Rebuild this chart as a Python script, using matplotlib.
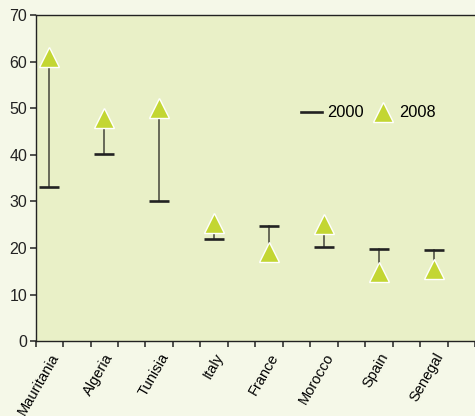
"""Dumbbell-style chart: 2000 vs 2008 values by country."""

import matplotlib
matplotlib.use("Agg")
import matplotlib.pyplot as plt
from matplotlib.lines import Line2D
import numpy as np

countries = ["Mauritania", "Algeria", "Tunisia", "Italy", "France",
             "Morocco", "Spain", "Senegal"]
values_2000 = [33.0, 40.2, 30.1, 21.9, 24.8, 20.3, 19.8, 19.6]
values_2008 = [61.0, 47.8, 50.0, 25.4, 19.2, 25.2, 14.8, 15.5]

FIG_BG = "#f5f8e8"
AX_BG = "#e9f0c7"
TRI = "#c3d633"

plt.rcParams.update({
    "font.family": ["Liberation Sans", "DejaVu Sans"],
    "font.size": 10.5,
})

fig = plt.figure(figsize=(4.75, 4.16), dpi=100, facecolor=FIG_BG)
ax = fig.add_axes([0.075, 0.18, 0.925, 0.784])
ax.set_facecolor(AX_BG)

x = np.arange(len(countries))
for xi, a, b in zip(x, values_2000, values_2008):
    ax.plot([xi, xi], [a, b], color="#44443a", linewidth=1.1, zorder=2)
ax.plot(x, values_2000, linestyle="none", marker="_", markersize=15,
        markeredgewidth=1.9, color="#222222", zorder=3)
ax.plot(x, values_2008, linestyle="none", marker="^", markersize=15,
        markerfacecolor=TRI, markeredgecolor="white", markeredgewidth=1.0,
        zorder=4)

ax.set_ylim(0, 70)
ax.set_xlim(-0.24, 7.65)
ax.set_yticks(range(0, 71, 10))
# half-category tick marks, names sit between them
ax.set_xticks(np.arange(-0.25, 7.8, 0.5))
ax.set_xticklabels([])
ax.set_xticks(x, minor=True)
ax.set_xticklabels(countries, minor=True, rotation=60, ha="right",
                   rotation_mode="anchor", fontsize=10.5)
ax.tick_params(axis="x", which="minor", length=0, pad=7)
ax.tick_params(axis="both", which="major", direction="out", length=4,
               width=1.1, color="#222222", labelcolor="#222222")
ax.tick_params(axis="y", labelsize=11.5, pad=2)

for side in ["left", "bottom", "top"]:
    ax.spines[side].set_color("#222222")
    ax.spines[side].set_linewidth(1.0)
ax.spines["right"].set_visible(False)

handles = [
    Line2D([], [], color="#222222", linewidth=1.9),
    Line2D([], [], linestyle="none", marker="^", markersize=15,
           markerfacecolor=TRI, markeredgecolor="white", markeredgewidth=1.0),
]
ax.legend(handles, ["2000", "2008"], loc="center left",
          bbox_to_anchor=(0.57, 0.70), ncol=2, frameon=False,
          handlelength=1.3, handletextpad=0.3, columnspacing=0.55,
          fontsize=11.8)

fig.savefig("out.png", dpi=100, facecolor=FIG_BG)
